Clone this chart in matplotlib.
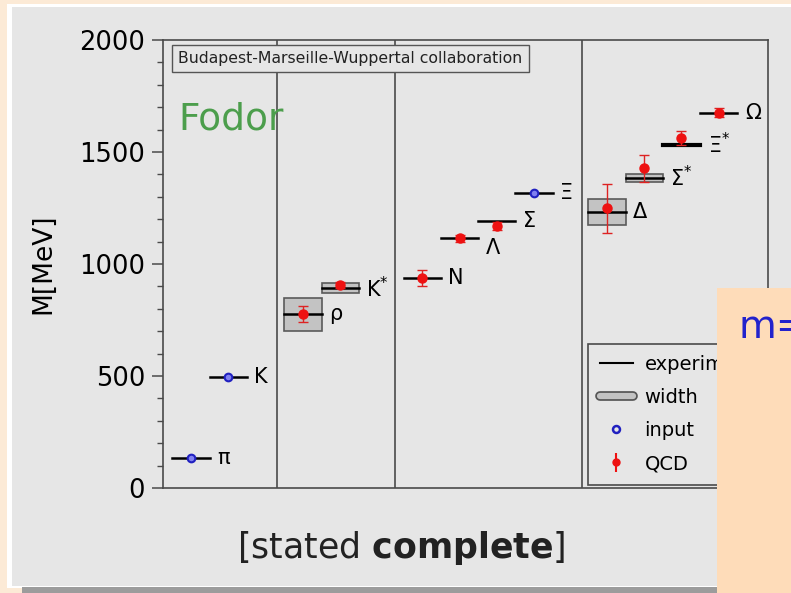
import matplotlib.pyplot as plt
from matplotlib.patches import Rectangle
from matplotlib.lines import Line2D
from matplotlib.legend_handler import HandlerTuple
from matplotlib.ticker import MultipleLocator

plt.rcParams['font.family'] = ['DejaVu Sans']
plt.rcParams['mathtext.fontset'] = 'dejavusans'

# hadron groups (columns of the plot)
groups = [
    ['π', 'K'],
    ['ρ', 'K*'],
    ['N', 'Λ', 'Σ', 'Ξ'],
    ['Δ', 'Σ*', 'Ξ*', 'Ω'],
]
names = [n for g in groups for n in g]

# experimental masses and decay widths [MeV]
exp_mass = [135, 495, 775, 892, 939, 1116, 1193, 1318, 1232, 1385, 1533, 1672]
exp_width = [0, 0, 149, 46, 0, 0, 0, 0, 120, 36, 0, 0]

# inputs of the calculation
input_names = ['π', 'K', 'Ξ']
input_mass = [135, 495, 1318]

# lattice QCD results
qcd_names = ['ρ', 'K*', 'N', 'Λ', 'Σ', 'Δ', 'Σ*', 'Ξ*', 'Ω']
qcd_mass = [777, 908, 936, 1114, 1168, 1248, 1427, 1563, 1676]
qcd_err = [35, 13, 35, 15, 18, 110, 60, 32, 20]

# layout of the columns
group_start = [0.75, 3.75, 6.95, 11.9]
separators = [3.06, 6.22, 11.23]
xpos = {}
for g, members in enumerate(groups):
    for i, n in enumerate(members):
        xpos[n] = group_start[g] + i

label_text = {'K*': r'$\mathregular{K^{*}}$', 'Σ*': r'$\mathregular{Σ^{*}}$',
              'Ξ*': r'$\mathregular{Ξ^{*}}$'}
label_dy = {'Λ': -45}

W, H = 791, 593
fig = plt.figure(figsize=(W / 100, H / 100), dpi=100)
fig.patch.set_facecolor('#fcead6')


def px_rect(x0, y0, x1, y1, **kw):
    return Rectangle((x0 / W, 1 - y1 / H), (x1 - x0) / W, (y1 - y0) / H,
                     transform=fig.transFigure, **kw)


fig.add_artist(px_rect(7, 4, W, 588, facecolor='white', edgecolor='none', zorder=-3))
fig.add_artist(px_rect(12, 7, W, 586, facecolor='#e6e6e6', edgecolor='none', zorder=-2))
fig.add_artist(px_rect(22, 587, W, H, facecolor='#9c9c9c', edgecolor='none', zorder=-2))

ax = fig.add_axes([163 / W, 1 - 488 / H, 605 / W, 448 / H])
ax.set_facecolor('none')
ax.set_xlim(0, 16.22)
ax.set_ylim(0, 2000)

for s in ax.spines.values():
    s.set_color('#4a4a4a')
    s.set_linewidth(1.2)
for xs in separators:
    ax.axvline(xs, color='#4a4a4a', lw=1.2)

ax.set_xticks([])
ax.yaxis.set_major_locator(MultipleLocator(500))
ax.yaxis.set_minor_locator(MultipleLocator(100))
ax.tick_params(axis='y', which='major', length=8, width=1.1, color='#4a4a4a',
               labelsize=18.5, pad=5)
ax.tick_params(axis='y', which='minor', length=4.3, width=1.0, color='#4a4a4a')
ax.set_ylabel('M[MeV]', fontsize=19)
ax.yaxis.set_label_coords(-0.177, 0.5)

# experiment lines and widths
for n, m, w in zip(names, exp_mass, exp_width):
    x = xpos[n]
    if w > 0:
        ax.add_patch(Rectangle((x - 0.5, m - w / 2), 1.0, w, facecolor='#c3c3c3',
                               edgecolor='#5a5a5a', lw=1.2, zorder=2))
    ax.plot([x - 0.5, x + 0.5], [m, m], color='black',
            lw=3 if n == 'Ξ*' else 1.8, zorder=3)
    ax.text(x + 0.7, m + label_dy.get(n, 0), label_text.get(n, n), fontsize=15,
            ha='left', va='center', zorder=4)

# inputs
ax.plot([xpos[n] for n in input_names], input_mass, 'o', ms=5.5, mfc='#8080f0',
        mec='#2020c0', mew=1.5, ls='none', zorder=5)

# QCD results
ax.errorbar([xpos[n] for n in qcd_names], qcd_mass, yerr=qcd_err, fmt='o', ms=6.5,
            color='#ee1111', ecolor='#dd2222', elinewidth=1.0, capsize=3.5, capthick=1.0,
            zorder=6)

width_handle = (Line2D([], [], color='#555555', lw=7, solid_capstyle='round'),
                Line2D([], [], color='#c3c3c3', lw=4.5, solid_capstyle='round'))
handles = [
    Line2D([], [], color='black', lw=1.5),
    width_handle,
    Line2D([], [], marker='o', ls='none', ms=5, mfc='none', mec='#2020c0', mew=1.8),
    ax.errorbar([], [], yerr=[], fmt='o', ms=5, color='#ee1111', capsize=2),
]
leg = ax.legend(handles, ['experiment', 'width', 'input', 'QCD'], loc='lower left',
                bbox_to_anchor=(0.7025, 0.007), fontsize=14, frameon=True,
                fancybox=False, edgecolor='#4a4a4a', facecolor='#e6e6e6', framealpha=1,
                handlelength=1.7, handletextpad=0.6, labelspacing=0.72, borderpad=0.6,
                borderaxespad=0, handler_map={tuple: HandlerTuple(ndivide=1, pad=0)})
leg.get_frame().set_linewidth(1.2)

ax.text(0.025, 0.975, 'Budapest-Marseille-Wuppertal collaboration', transform=ax.transAxes,
        fontsize=11.3, ha='left', va='top', color='#222222',
        bbox=dict(boxstyle='square,pad=0.4', facecolor='#e6e6e6', edgecolor='#555555', lw=1.0))
ax.text(0.025, 0.80, 'Fodor', transform=ax.transAxes, fontsize=27, color='#4c9e4c',
        ha='left', va='baseline', zorder=7)

fig.text(401 / W, 1 - 548 / H, r'[stated $\mathbf{complete}$]', fontsize=25,
         ha='center', va='center', color='#222222')

# overlapping box of the slide
fig.add_artist(px_rect(717, 288, W, H, facecolor='#fedcb9', edgecolor='none', zorder=10))
fig.text(738 / W, 1 - 338 / H, 'm=', fontsize=28, color='#2222cc', ha='left',
         va='baseline', zorder=11)

fig.savefig('out.png', dpi=100)
